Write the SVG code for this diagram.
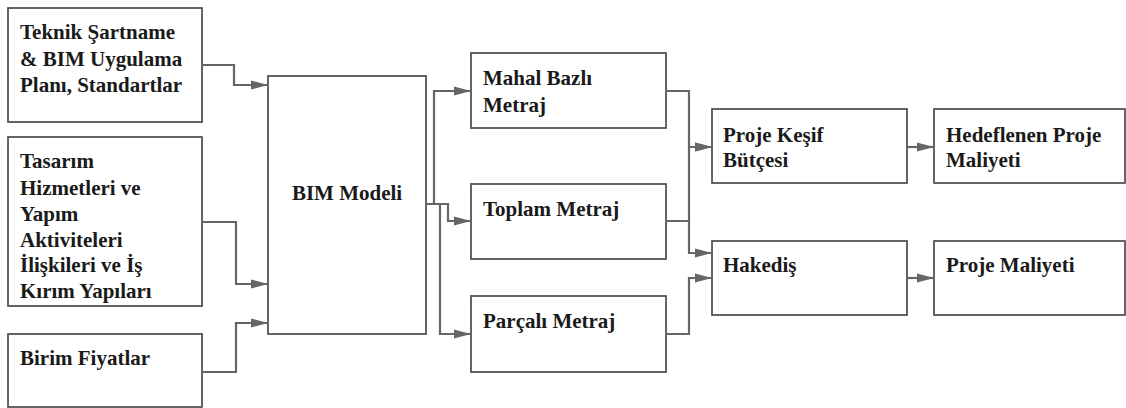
<svg xmlns="http://www.w3.org/2000/svg" width="1126" height="408" viewBox="0 0 1126 408">
<style>
.box{fill:#fff;stroke:#555;stroke-width:1.8}
.t{font-family:'Liberation Serif','Times New Roman',serif;font-weight:700;font-size:21px;fill:#1a1a1a}
.c{fill:none;stroke:#666;stroke-width:2.2}
</style>
<defs>
<marker id="ah" markerUnits="userSpaceOnUse" markerWidth="18" markerHeight="10" refX="17" refY="5" orient="auto">
<path d="M0,0.5 L17,5 L0,9.5 z" fill="#666"/>
</marker>
</defs>
<rect width="1126" height="408" fill="#fff"/>
<g id="n-teknik"><rect class="box" x="8" y="8" width="194" height="114"/>
<text class="t" x="20" y="39">Teknik Şartname</text>
<text class="t" x="20" y="66">&amp; BIM Uygulama</text>
<text class="t" x="20" y="92">Planı, Standartlar</text></g>
<g id="n-tasarim"><rect class="box" x="8" y="137" width="194" height="169"/>
<text class="t" x="20" y="168">Tasarım</text>
<text class="t" x="20" y="195">Hizmetleri ve</text>
<text class="t" x="20" y="221">Yapım</text>
<text class="t" x="20" y="247">Aktiviteleri</text>
<text class="t" x="20" y="272">İlişkileri ve İş</text>
<text class="t" x="20" y="298">Kırım Yapıları</text></g>
<g id="n-birim"><rect class="box" x="8" y="334" width="194" height="73"/>
<text class="t" x="20" y="365">Birim Fiyatlar</text></g>
<g id="n-bim"><rect class="box" x="268" y="76" width="158" height="258"/>
<text class="t" x="347" y="200" text-anchor="middle">BIM Modeli</text></g>
<g id="n-mahal"><rect class="box" x="471" y="53" width="195" height="75"/>
<text class="t" x="483" y="85">Mahal Bazlı</text>
<text class="t" x="483" y="112">Metraj</text></g>
<g id="n-toplam"><rect class="box" x="471" y="184" width="195" height="75"/>
<text class="t" x="483" y="216">Toplam Metraj</text></g>
<g id="n-parcali"><rect class="box" x="471" y="296" width="195" height="76"/>
<text class="t" x="483" y="328">Parçalı Metraj</text></g>
<g id="n-kesif"><rect class="box" x="712" y="109" width="195" height="74"/>
<text class="t" x="723" y="142">Proje Keşif</text>
<text class="t" x="723" y="167">Bütçesi</text></g>
<g id="n-hakedis"><rect class="box" x="712" y="241" width="195" height="74"/>
<text class="t" x="723" y="272">Hakediş</text></g>
<g id="n-hedef"><rect class="box" x="934" y="109" width="191" height="74"/>
<text class="t" x="946" y="142">Hedeflenen Proje</text>
<text class="t" x="946" y="167">Maliyeti</text></g>
<g id="n-maliyet"><rect class="box" x="934" y="241" width="191" height="74"/>
<text class="t" x="946" y="272">Proje Maliyeti</text></g>
<g id="connectors">
<path class="c" d="M202,65 H234 V85 H268" marker-end="url(#ah)"/>
<path class="c" d="M202,222 H236 V284 H268" marker-end="url(#ah)"/>
<path class="c" d="M202,372 H236 V323 H268" marker-end="url(#ah)"/>
<path class="c" d="M426,204 H434 V91 H471" marker-end="url(#ah)"/>
<path class="c" d="M426,204 H448 V221 H471" marker-end="url(#ah)"/>
<path class="c" d="M426,204 H440 V334 H471" marker-end="url(#ah)"/>
<path class="c" d="M666,91 H689 V147 H712" marker-end="url(#ah)"/>
<path class="c" d="M666,221 H689 V147 H712" marker-end="url(#ah)"/>
<path class="c" d="M666,221 H689 V253 H712" marker-end="url(#ah)"/>
<path class="c" d="M666,334 H689 V278 H712" marker-end="url(#ah)"/>
<path class="c" d="M907,147 H934" marker-end="url(#ah)"/>
<path class="c" d="M907,278 H934" marker-end="url(#ah)"/>
</g>
</svg>
